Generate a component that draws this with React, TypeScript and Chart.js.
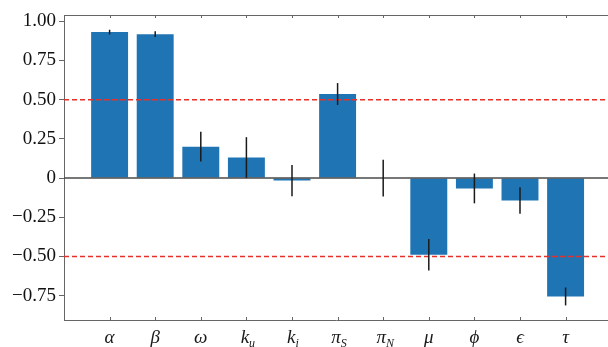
import React, { useEffect, useRef } from "react";
import { Chart, registerables } from "chart.js";
Chart.register(...registerables);

const symbols = ["α", "β", "ω", "k", "k", "π", "π", "μ", "ϕ", "ϵ", "τ"];
const subscripts = ["", "", "", "u", "i", "S", "N", "", "", "", ""];
const values = [0.931, 0.918, 0.2, 0.131, -0.016, 0.536, 0.0, -0.489, -0.066, -0.143, -0.755];
const errors = [0.015, 0.018, 0.095, 0.13, 0.1, 0.07, 0.117, 0.1, 0.095, 0.084, 0.057];
const yTicks = [1, 0.75, 0.5, 0.25, 0, -0.25, -0.5, -0.75];
const yTickLabels = ["1.00", "0.75", "0.50", "0.25", "0", "−0.25", "−0.50", "−0.75"];
const thresholds = [0.5, -0.5];

const SERIF = "Liberation Serif";
Chart.defaults.font.family = "'Liberation Serif', 'Times New Roman', serif";
Chart.defaults.font.size = 19;

const overlay = {
  id: "overlay",
  afterDatasetsDraw(chart: any) {
    const { ctx, chartArea: a, scales } = chart;
    const xs = scales.x, ys = scales.y;
    ctx.save();
    ctx.strokeStyle = "#e8302a";
    ctx.lineWidth = 1.5;
    ctx.setLineDash([5, 3]);
    thresholds.forEach((t) => {
      const y = ys.getPixelForValue(t);
      ctx.beginPath();
      ctx.moveTo(a.left, y);
      ctx.lineTo(a.right, y);
      ctx.stroke();
    });
    ctx.setLineDash([]);
    const y0 = ys.getPixelForValue(0);
    ctx.strokeStyle = "#4a4a4a";
    ctx.lineWidth = 1.5;
    ctx.beginPath();
    ctx.moveTo(a.left, y0);
    ctx.lineTo(a.right, y0);
    ctx.stroke();
    ctx.strokeStyle = "#1a1a1a";
    ctx.lineWidth = 1.5;
    values.forEach((v, i) => {
      const x = xs.getPixelForValue(i);
      ctx.beginPath();
      ctx.moveTo(x, ys.getPixelForValue(v + errors[i]));
      ctx.lineTo(x, ys.getPixelForValue(v - errors[i]));
      ctx.stroke();
    });
    ctx.strokeStyle = "#666";
    ctx.lineWidth = 1;
    ctx.beginPath();
    ctx.moveTo(a.left, a.top + 0.5);
    ctx.lineTo(a.right, a.top + 0.5);
    ctx.stroke();
    values.forEach((_, i) => {
      const x = Math.round(xs.getPixelForValue(i)) + 0.5;
      ctx.beginPath();
      ctx.moveTo(x, a.bottom);
      ctx.lineTo(x, a.bottom - 3);
      ctx.moveTo(x, a.top);
      ctx.lineTo(x, a.top + 3);
      ctx.stroke();
    });
    ctx.restore();
  },
  afterDraw(chart: any) {
    const { ctx, scales } = chart;
    const xs = scales.x;
    ctx.save();
    ctx.fillStyle = "#1a1a1a";
    ctx.textBaseline = "alphabetic";
    ctx.textAlign = "left";
    symbols.forEach((s, i) => {
      const x = xs.getPixelForValue(i);
      ctx.font = `italic 19px "${SERIF}"`;
      const w1 = ctx.measureText(s).width;
      ctx.font = `italic 12px "${SERIF}"`;
      const w2 = subscripts[i] ? ctx.measureText(subscripts[i]).width : 0;
      const start = x - (w1 + w2) / 2 + (w2 ? w2 * 0.25 : 0);
      ctx.font = `italic 19px "${SERIF}"`;
      ctx.fillText(s, start, 343);
      if (subscripts[i]) {
        ctx.font = `italic 12px "${SERIF}"`;
        ctx.fillText(subscripts[i], start + w1, 347);
      }
    });
    ctx.restore();
  },
};

export default function App() {
  const ref = useRef<HTMLCanvasElement>(null);
  useEffect(() => {
    document.body.style.margin = "0";
    const chart = new Chart(ref.current!, {
      type: "bar",
      data: {
        datasets: [
          {
            data: values.map((v, i) => ({ x: i, y: v })),
            backgroundColor: "#1f74b4",
            borderWidth: 0,
            barPercentage: 1,
            categoryPercentage: 0.81,
          },
        ],
      },
      options: {
        animation: false,
        responsive: false,
        font: { family: "'Liberation Serif', 'Times New Roman', serif", size: 19 },
        layout: { padding: { top: 15, right: 0, left: 0, bottom: 0 } },
        plugins: { legend: { display: false }, tooltip: { enabled: false } },
        scales: {
          x: {
            type: "linear",
            offset: false,
            min: -1,
            max: 10.93,
            grid: { display: false },
            border: { display: true, color: "#666", width: 1 },
            ticks: { display: false },
            afterFit: (s: any) => {
              s.height = 27;
            },
          },
          y: {
            min: -0.905,
            max: 1.04,
            afterBuildTicks: (s: any) => {
              s.ticks = yTicks.map((v) => ({ value: v }));
            },
            afterFit: (s: any) => {
              s.width = 64;
            },
            grid: { drawOnChartArea: false, tickLength: 5, color: "#666" },
            border: { display: true, color: "#666", width: 1 },
            ticks: {
              padding: 3,
              color: "#111",
              font: { family: "'Liberation Serif', 'Times New Roman', serif", size: 19 },
              callback: (v: any) => {
                const idx = yTicks.findIndex((t) => Math.abs(t - v) < 1e-9);
                return idx >= 0 ? yTickLabels[idx] : "";
              },
            },
          },
        },
      },
      plugins: [overlay],
    } as any);
    return () => chart.destroy();
  }, []);
  return <canvas ref={ref} width={608} height={347} style={{ display: "block" }} />;
}
